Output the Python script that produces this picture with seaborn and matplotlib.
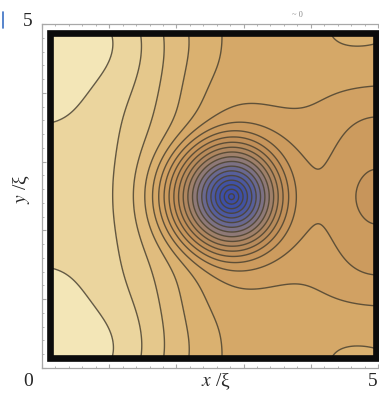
import numpy as np
import matplotlib
matplotlib.use("Agg")
import matplotlib.pyplot as plt
import seaborn as sns
from matplotlib.patches import Rectangle
from matplotlib.ticker import MultipleLocator

# --- values (units of xi) ---
box_x = [0.12, 4.97]          # walls of the box
box_y = [0.14, 4.865]
vortex = [2.82, 2.49]         # vortex core position

# radial part around the core: slope, saturation radius (1, cos t, cos 2t), sharpness
core_slope = 15.6
core_radius = [1.075, -0.15, 0.025]
core_sharp = 8

# contour level (counted from the core) at points
mid_x = [0.12, 1.13, 1.35, 1.50, 1.64, 1.90, 2.31, 2.82, 3.33, 3.74, 4.29, 4.66, 4.97]  # vortex row
mid_level = [20.6, 20.0, 19.0, 18.0, 17.0, 14.0, 8.0, 0.3, 8.0, 14.0, 14.5, 14.0, 13.7]
top_x = [0.12, 1.06, 1.46, 1.80, 2.20, 2.65, 3.69, 4.97]             # along the top wall
top_level = [21.5, 21.0, 20.0, 19.0, 18.0, 17.0, 16.5, 17.1]
right_dy = [0.47, 1.15, 1.62]                                        # up the right wall
right_level = [14.0, 15.0, 16.0]
left_dy = [1.07]                                                     # up the left wall
left_level = [21.0]
inner_x = [2.82, 2.82, 4.29, 3.37, 3.37]                             # inside, above the row
inner_dy = [0.50, 0.97, 0.49, 1.02, 1.26]
inner_level = [8.0, 14.0, 15.0, 15.0, 16.0]

dip_depth = 0.8               # shallow minimum in the middle of the right wall
dip_width = 0.4

n_levels = 22

band_colors = ["#3a4ca6", "#3f51a4", "#59609a", "#85767e", "#ae855f",
               "#c29058", "#cf9e60", "#d9ae6d", "#e6ca8e", "#f4e8ba"]
line_color = "#4a4130"

tick_labels = {"y_top": "5", "origin": "0", "x_right": "5"}
x_label = r"$x$ /ξ"
y_label = r"$y$ /ξ"

# --- field: core profile plus a smooth background fitted to the read levels ---
W = box_x[1] - box_x[0]
H = box_y[1] - box_y[0]
kx = np.arange(7)
my = np.array([0, 2, 4, 6])


def core(x, y):
    dx = np.asarray(x, float) - vortex[0]
    dy = np.asarray(y, float) - vortex[1]
    r = np.hypot(dx, dy)
    t = np.arctan2(dy, dx)
    rc = core_radius[0] + core_radius[1] * np.cos(t) + core_radius[2] * np.cos(2 * t)
    return core_slope * r / (1 + (r / rc) ** core_sharp) ** (1 / core_sharp)


def dip(x, y):
    return dip_depth * np.exp(-((x - box_x[1]) ** 2 + (y - vortex[1]) ** 2) / dip_width ** 2)


def basis(x, y):
    X = np.asarray(x, float)[..., None, None] - box_x[0]
    Y = np.asarray(y, float)[..., None, None] - box_y[0]
    b = np.cos(kx[:, None] * np.pi * X / W) * np.cos(my[None, :] * np.pi * Y / H)
    return b.reshape(b.shape[:-2] + (-1,))


px = np.concatenate([mid_x, top_x, [box_x[1]] * len(right_dy), [box_x[0]] * len(left_dy), inner_x])
py = np.concatenate([[vortex[1]] * len(mid_x), [box_y[1]] * len(top_x),
                     vortex[1] + np.array(right_dy), vortex[1] + np.array(left_dy),
                     vortex[1] + np.array(inner_dy)])
pl = np.concatenate([mid_level, top_level, right_level, left_level, inner_level])

A = basis(px, py)
rhs = pl - core(px, py) + dip(px, py)
pen = np.diag(0.008 * (kx[:, None] ** 2 + my[None, :] ** 2).ravel().astype(float) ** 1.5)
coef = np.linalg.solve(A.T @ A + pen, A.T @ rhs)


def field(x, y):
    return core(x, y) + basis(x, y) @ coef - dip(x, y)


xs = np.linspace(box_x[0], box_x[1], 500)
ys = np.linspace(box_y[0], box_y[1], 500)
xx, yy = np.meshgrid(xs, ys)
f = field(xx, yy)
levels = np.arange(1, n_levels + 1, dtype=float)
levels = levels[(levels > f.min()) & (levels < f.max())]
bands = np.concatenate([[f.min() - 1], levels, [f.max() + 1]])

sns.set_theme(style="white")
plt.rcParams["font.family"] = ["Liberation Serif", "DejaVu Serif"]
plt.rcParams["mathtext.fontset"] = "stix"

cmap = sns.blend_palette(band_colors, as_cmap=True)

fig = plt.figure(figsize=(3.79, 3.99), dpi=100)
fw, fh = 379, 399
ax = fig.add_axes([42 / fw, 31 / fh, 341 / fw, 344 / fh])
ax.set_xlim(0, 341 / 67.2)
ax.set_ylim(0, 5)

ax.contourf(xx, yy, f, levels=bands, cmap=cmap, vmin=1, vmax=22)
ax.contour(xx, yy, f, levels=levels, colors=line_color, linewidths=1.0, alpha=0.85)
ax.add_patch(Rectangle((box_x[0], box_y[0]), W, H, fill=False, lw=4.8,
                       ec="#0b0b0b", joinstyle="miter", zorder=5))

# Mathematica-like grey frame with inward ticks
for side in ["left", "top", "bottom"]:
    ax.spines[side].set_color("#a8a8a8")
    ax.spines[side].set_linewidth(0.9)
ax.spines["right"].set_visible(False)
ax.xaxis.set_major_locator(MultipleLocator(1))
ax.xaxis.set_minor_locator(MultipleLocator(0.2))
ax.yaxis.set_major_locator(MultipleLocator(1))
ax.yaxis.set_minor_locator(MultipleLocator(0.2))
ax.tick_params(which="both", direction="in", color="#a8a8a8", top=True, bottom=True,
               left=True, right=False, labelbottom=False, labelleft=False)
ax.tick_params(which="major", length=3.2, width=0.8)
ax.tick_params(which="minor", length=1.6, width=0.6)


def put(x_px, y_px, s, **kw):
    fig.text(x_px / fw, 1 - y_px / fh, s, ha="center", va="center", **kw)


put(28, 21, tick_labels["y_top"], fontsize=14)
put(28, 382, tick_labels["origin"], fontsize=14)
put(373, 381, tick_labels["x_right"], fontsize=14)
put(216, 382, x_label, fontsize=14)
put(22, 189, y_label, fontsize=14, rotation=90)
put(297, 15, "~ 0", fontsize=6, color="#8a8a8a")
fig.add_artist(plt.Line2D([2.5 / fw, 2.5 / fw], [1 - 28 / fh, 1 - 12 / fh],
                          color="#3a6fc4", lw=1.2))

fig.savefig("out.png", dpi=100)
